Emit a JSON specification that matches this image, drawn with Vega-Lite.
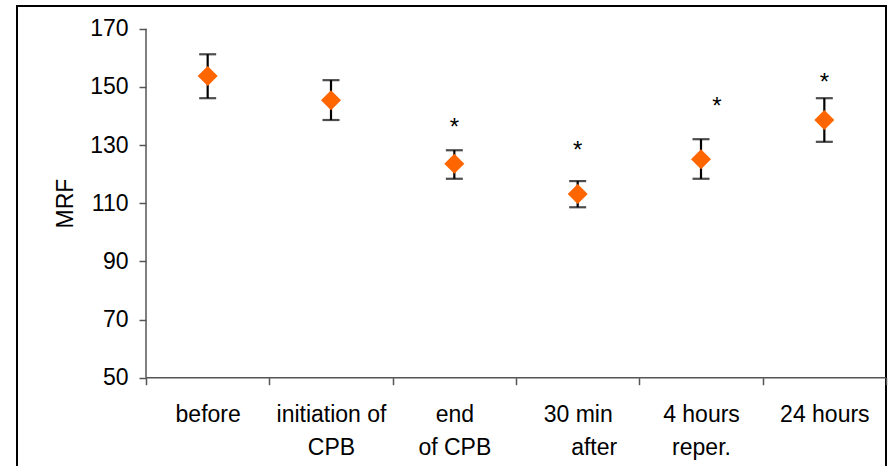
{
  "$schema": "https://vega.github.io/schema/vega-lite/v6.json",
  "width": 869,
  "height": 462,
  "autosize": {"type": "none"},
  "padding": {"left": 17, "top": 6, "right": 5, "bottom": 0},
  "config": {
    "font": "Liberation Sans",
    "view": {"stroke": "#000000", "strokeWidth": 2}
  },
  "data": {
    "values": [
      {"time": "before", "mrf": 153.7, "lo": 146.1, "hi": 161.2, "star": null},
      {"time": "initiation of CPB", "mrf": 145.4, "lo": 138.6, "hi": 152.3, "star": null},
      {"time": "end of CPB", "mrf": 123.6, "lo": 118.4, "hi": 128.2, "star": 138},
      {"time": "30 min after", "mrf": 113.2, "lo": 108.6, "hi": 117.6, "star": 130},
      {"time": "4 hours reper.", "mrf": 125.1, "lo": 118.4, "hi": 132.0, "star": 145},
      {"time": "24 hours", "mrf": 138.6, "lo": 131.1, "hi": 146.1, "star": 153.5}
    ]
  },
  "encoding": {
    "x": {
      "field": "time",
      "type": "nominal",
      "scale": {
        "domain": ["before", "initiation of CPB", "end of CPB", "30 min after", "4 hours reper.", "24 hours"],
        "paddingInner": 0,
        "paddingOuter": 0.523,
        "align": 1
      },
      "axis": {
        "title": null,
        "labelAngle": 0,
        "labelFontSize": 23,
        "labelColor": "#000000",
        "labelBaseline": "top",
        "labelLineHeight": 33,
        "labelPadding": 19,
        "labelOverlap": false,
        "tickSize": 7,
        "tickColor": "#555555",
        "tickWidth": 1.5,
        "tickBand": "extent",
        "domain": false,
        "offset": -90.3,
        "labelExpr": "datum.value == 'initiation of CPB' ? ['initiation of', 'CPB'] : datum.value == 'end of CPB' ? ['end', 'of CPB'] : datum.value == '30 min after' ? ['30 min', '\u200b\u00a0\u00a0\u00a0\u00a0\u00a0after'] : datum.value == '4 hours reper.' ? ['4 hours', 'reper.'] : datum.value"
      }
    },
    "y": {
      "type": "quantitative",
      "scale": {"domain": [18.95, 177.8], "nice": false, "zero": false},
      "axis": {
        "values": [50, 70, 90, 110, 130, 150, 170],
        "title": "MRF",
        "titleY": 197,
        "titleFontSize": 23,
        "titleFontWeight": "normal",
        "titleColor": "#000000",
        "titlePadding": 12,
        "labelFontSize": 23,
        "labelColor": "#000000",
        "labelPadding": 11,
        "tickSize": 7,
        "tickColor": "#555555",
        "tickWidth": 1.5,
        "domain": false,
        "grid": false,
        "offset": -129
      }
    }
  },
  "layer": [
    {
      "data": {"values": [{}]},
      "mark": {"type": "rule", "color": "#555555", "strokeWidth": 1.5},
      "encoding": {
        "x": {"datum": "before", "bandPosition": 0},
        "y": {"datum": 50},
        "y2": {"datum": 170}
      }
    },
    {
      "data": {"values": [{}]},
      "mark": {"type": "rule", "color": "#555555", "strokeWidth": 1.5},
      "encoding": {
        "x": {"datum": "before", "bandPosition": 0},
        "x2": {"datum": "24 hours", "bandPosition": 1},
        "y": {"datum": 50}
      }
    },
    {
      "mark": {"type": "rule", "color": "#000000", "strokeWidth": 2.2},
      "encoding": {"y": {"field": "lo"}, "y2": {"field": "hi"}}
    },
    {
      "mark": {"type": "tick", "color": "#000000", "size": 17, "thickness": 2.2},
      "encoding": {"y": {"field": "hi"}}
    },
    {
      "mark": {"type": "tick", "color": "#000000", "size": 17, "thickness": 2.2},
      "encoding": {"y": {"field": "lo"}}
    },
    {
      "mark": {"type": "point", "shape": "diamond", "filled": true, "size": 400, "color": "#FF6600", "opacity": 1, "strokeWidth": 0},
      "encoding": {"y": {"field": "mrf"}}
    },
    {
      "transform": [{"filter": "datum.star != null && datum.time != '4 hours reper.'"}],
      "mark": {"type": "text", "text": "*", "fontSize": 24, "color": "#000000", "baseline": "alphabetic", "dy": 13},
      "encoding": {"y": {"field": "star"}}
    },
    {
      "transform": [{"filter": "datum.time == '4 hours reper.'"}],
      "mark": {"type": "text", "text": "*", "fontSize": 24, "color": "#000000", "baseline": "alphabetic", "dy": 13, "dx": 16},
      "encoding": {"y": {"field": "star"}}
    }
  ]
}
